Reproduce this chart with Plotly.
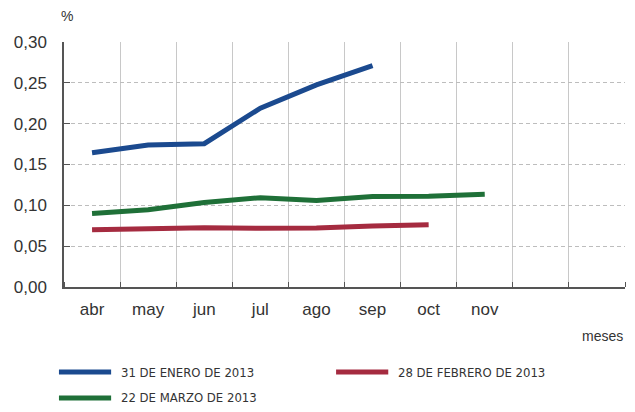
import plotly.graph_objects as go

months = ["abr", "may", "jun", "jul", "ago", "sep", "oct", "nov"]
n_slots = 10

ene_2013 = [0.1645, 0.174, 0.1755, 0.219, 0.2475, 0.271]
feb_2013 = [0.070, 0.071, 0.0726, 0.0719, 0.0721, 0.0747, 0.0763]
mar_2013 = [0.090, 0.0945, 0.1035, 0.1093, 0.106, 0.1108, 0.1112, 0.1135]

series = [
    ("31 DE ENERO DE 2013", ene_2013, "#1b4a8f"),
    ("28 DE FEBRERO DE 2013", feb_2013, "#a52b40"),
    ("22 DE MARZO DE 2013", mar_2013, "#1f7038"),
]

# legend placement (paper coords): x-start of line, y of row
legend_pos = [(-0.009, -0.347), (0.485, -0.347), (-0.009, -0.453)]
line_len = 0.093
text_gap = 0.014

# the page body has an 8px default margin, so the figure is 8px smaller
W, H = 627, 404
L, R, T, B = 56, 10, 34, 125

fig = go.Figure()
for name, vals, col in series:
    fig.add_trace(go.Scatter(
        x=[i + 0.5 for i in range(len(vals))], y=vals, name=name,
        mode="lines", line=dict(color=col, width=5), showlegend=False,
    ))

tick_font = dict(family="Liberation Sans, Arial, sans-serif", size=17, color="#333333")
leg_font = dict(family="Liberation Sans Narrow, DejaVu Sans Condensed, sans-serif", size=13, color="#333333")

shapes = []
annotations = []
for (name, vals, col), (lx, ly) in zip(series, legend_pos):
    shapes.append(dict(type="line", xref="paper", yref="paper", x0=lx, x1=lx + line_len,
                       y0=ly, y1=ly, line=dict(color=col, width=5)))
    annotations.append(dict(text=name, xref="paper", yref="paper", x=lx + line_len + text_gap,
                            y=ly, xanchor="left", yanchor="middle", showarrow=False, font=leg_font))

annotations += [
    dict(text="%", xref="paper", yref="paper", x=0.005, y=1.107, xanchor="center",
         yanchor="middle", showarrow=False, font=dict(family="Liberation Sans, Arial", size=14, color="#333333")),
    dict(text="meses", xref="paper", yref="paper", x=1.0, y=-0.2, xanchor="right",
         yanchor="middle", showarrow=False, font=dict(family="Liberation Sans, Arial", size=14, color="#333333")),
]

fig.update_layout(
    width=W, height=H,
    margin=dict(l=L, r=R, t=T, b=B),
    plot_bgcolor="white", paper_bgcolor="white",
    separators=",.",
    showlegend=False,
    shapes=shapes,
    annotations=annotations,
    xaxis=dict(
        range=[0, n_slots], automargin=False,
        tickvals=[i + 0.5 for i in range(len(months))], ticktext=months,
        ticks="", showgrid=False, zeroline=False,
        showline=True, linecolor="#555555", linewidth=2,
        tickfont=tick_font, ticklabelstandoff=6,
        minor=dict(tickvals=list(range(n_slots + 1)), ticks="inside", ticklen=5,
                   tickcolor="#555555", showgrid=True, gridcolor="#c8c8c8", gridwidth=1),
        fixedrange=True,
    ),
    yaxis=dict(
        range=[0, 0.30], dtick=0.05, tickformat=".2f", automargin=False,
        ticks="inside", ticklen=6, tickcolor="#555555",
        showgrid=True, gridcolor="#bdbdbd", griddash="4px,3px", gridwidth=1,
        zeroline=False, showline=True, linecolor="#555555", linewidth=1.5,
        tickfont=tick_font, ticklabelstandoff=12,
        fixedrange=True,
    ),
)

fig.write_html("out.html")
